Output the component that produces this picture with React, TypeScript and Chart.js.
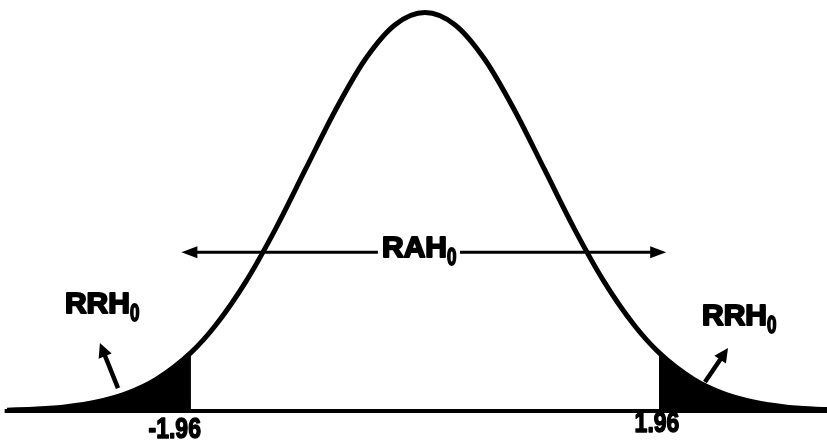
import React, { useEffect, useRef } from "react";
import { Chart, registerables } from "chart.js";

Chart.register(...registerables);

// Standard normal density, sampled along z
const zValues = [
  -3.5, -3.25, -3.0, -2.75, -2.5, -2.25, -1.96, -1.75, -1.5, -1.25, -1.0, -0.75, -0.5, -0.25,
  0, 0.25, 0.5, 0.75, 1.0, 1.25, 1.5, 1.75, 1.96, 2.25, 2.5, 2.75, 3.0, 3.25, 3.5,
];
const densityValues = [
  0.0009, 0.002, 0.0044, 0.0091, 0.0175, 0.0317, 0.0584, 0.0863, 0.1295, 0.1826, 0.242, 0.3011,
  0.3521, 0.3867, 0.3989, 0.3867, 0.3521, 0.3011, 0.242, 0.1826, 0.1295, 0.0863, 0.0584, 0.0317,
  0.0175, 0.0091, 0.0044, 0.002, 0.0009,
];

// Critical values of the two-sided test
const criticalValues = [-1.96, 1.96];
const tickLabels = ["-1.96", "1.96"];

// Baseline extent
const baselineZ = [-3.52, 3.4];

const FONT = "'Liberation Sans', Arial, Helvetica, sans-serif";

function drawArrowHead(ctx: CanvasRenderingContext2D, x1: number, y1: number, x2: number, y2: number, len: number, half: number) {
  const a = Math.atan2(y2 - y1, x2 - x1);
  ctx.beginPath();
  ctx.moveTo(x2, y2);
  ctx.lineTo(x2 - len * Math.cos(a) + half * Math.sin(a), y2 - len * Math.sin(a) - half * Math.cos(a));
  ctx.lineTo(x2 - len * Math.cos(a) - half * Math.sin(a), y2 - len * Math.sin(a) + half * Math.cos(a));
  ctx.closePath();
  ctx.fill();
}

function drawArrow(ctx: CanvasRenderingContext2D, x1: number, y1: number, x2: number, y2: number, width: number, len: number, half: number) {
  const a = Math.atan2(y2 - y1, x2 - x1);
  ctx.lineWidth = width;
  ctx.beginPath();
  ctx.moveTo(x1, y1);
  ctx.lineTo(x2 - (len - 2) * Math.cos(a), y2 - (len - 2) * Math.sin(a));
  ctx.stroke();
  drawArrowHead(ctx, x1, y1, x2, y2, len, half);
}

function drawSubscripted(ctx: CanvasRenderingContext2D, main: string, sub: string, x: number, y: number) {
  ctx.font = `bold 30px ${FONT}`;
  ctx.textAlign = "left";
  ctx.textBaseline = "alphabetic";
  ctx.lineJoin = "round";
  ctx.lineWidth = 2;
  ctx.fillText(main, x, y);
  ctx.strokeText(main, x, y);
  const w = ctx.measureText(main).width;
  ctx.save();
  ctx.translate(x + w, y + 8);
  ctx.scale(0.85, 1.2);
  ctx.font = `bold 20px ${FONT}`;
  ctx.lineWidth = 1.5;
  ctx.fillText(sub, 0, 0);
  ctx.strokeText(sub, 0, 0);
  ctx.restore();
}

const annotations = {
  id: "hypothesisAnnotations",
  afterDatasetsDraw(chart: any) {
    const ctx: CanvasRenderingContext2D = chart.ctx;
    const xs = chart.scales.x;
    const ys = chart.scales.y;
    const px = (v: number) => xs.getPixelForValue(v);
    const py = (v: number) => ys.getPixelForValue(v);
    ctx.save();
    ctx.fillStyle = "#000";
    ctx.strokeStyle = "#000";
    ctx.lineCap = "butt";

    // Acceptance region arrow with label
    const ay = py(0.159);
    drawArrow(ctx, px(-0.394), ay, px(-2.04), ay, 3, 16, 6);
    drawArrow(ctx, px(0.293), ay, px(2.02), ay, 3, 16, 6);
    drawSubscripted(ctx, "RAH", "0", px(-0.36), py(0.154));

    // Rejection region arrows and labels
    drawArrow(ctx, px(-2.571), py(0.023), px(-2.722), py(0.068), 4.5, 14, 7);
    drawArrow(ctx, px(2.345), py(0.029), px(2.538), py(0.063), 4.5, 14, 7);
    drawSubscripted(ctx, "RRH", "0", px(-3.015), py(0.098));
    drawSubscripted(ctx, "RRH", "0", px(2.32), py(0.086));

    // Critical value labels
    ctx.font = `bold 23px ${FONT}`;
    ctx.lineWidth = 1.2;
    ctx.lineJoin = "round";
    ctx.textBaseline = "alphabetic";
    const labelY = [py(-0.027), py(-0.021)];
    criticalValues.forEach((c, i) => {
      ctx.save();
      ctx.translate(i === 0 ? px(c) + 10 : px(c) - 2, labelY[i]);
      ctx.scale(1, 1.25);
      ctx.textAlign = i === 0 ? "right" : "center";
      ctx.fillText(tickLabels[i], 0, 0);
      ctx.strokeText(tickLabels[i], 0, 0);
      ctx.restore();
    });
    ctx.restore();
  },
};

export default function App() {
  const canvasRef = useRef<HTMLCanvasElement | null>(null);

  useEffect(() => {
    if (!canvasRef.current) return;
    const curve = zValues.map((z, i) => ({ x: z, y: densityValues[i] }));
    const leftTail = curve.filter((p) => p.x <= criticalValues[0]);
    const rightTail = curve.filter((p) => p.x >= criticalValues[1]);
    const baseline = baselineZ.map((z) => ({ x: z, y: 0 }));

    const chart = new Chart(canvasRef.current, {
      type: "line",
      data: {
        datasets: [
          {
            data: curve,
            borderColor: "#000",
            borderWidth: 5,
            pointRadius: 0,
            cubicInterpolationMode: "monotone",
            fill: false,
          },
          {
            data: leftTail,
            borderWidth: 0,
            borderColor: "rgba(0,0,0,0)",
            backgroundColor: "#000",
            pointRadius: 0,
            cubicInterpolationMode: "monotone",
            fill: "origin",
          },
          {
            data: rightTail,
            borderWidth: 0,
            borderColor: "rgba(0,0,0,0)",
            backgroundColor: "#000",
            pointRadius: 0,
            cubicInterpolationMode: "monotone",
            fill: "origin",
          },
          {
            data: baseline,
            borderColor: "#000",
            borderWidth: 4,
            pointRadius: 0,
            fill: false,
          },
        ],
      },
      options: {
        responsive: false,
        animation: false,
        layout: { padding: 0 },
        plugins: {
          legend: { display: false },
          tooltip: { enabled: false },
          title: { display: false },
        },
        scales: {
          x: { type: "linear", min: -3.559, max: 3.367, display: false },
          y: { type: "linear", min: -0.029, max: 0.4114, display: false },
        },
      },
      plugins: [annotations],
    });
    return () => chart.destroy();
  }, []);

  return (
    <div style={{ position: "absolute", left: 0, top: 0, width: 827, height: 440, background: "#fff" }}>
      <canvas ref={canvasRef} width={827} height={440} />
    </div>
  );
}
